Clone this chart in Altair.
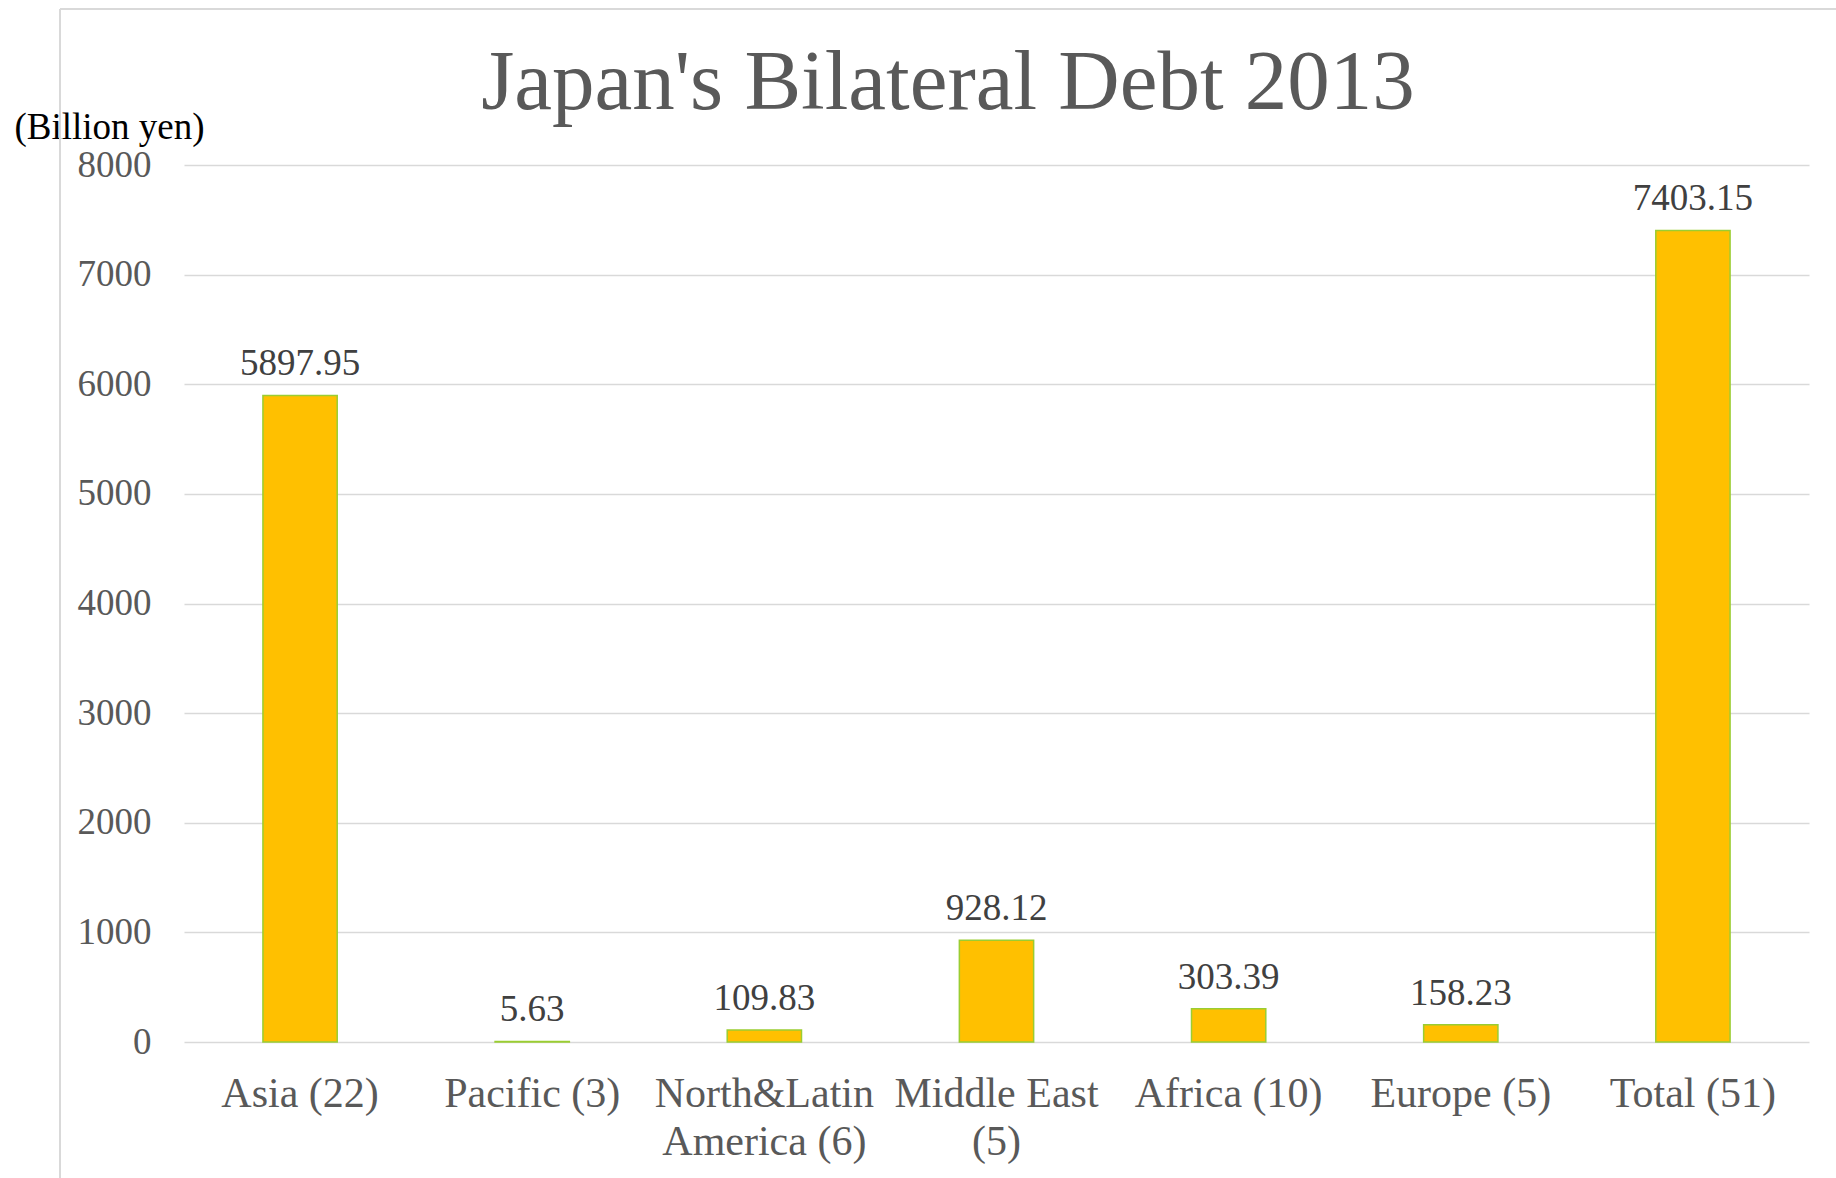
import altair as alt
import pandas as pd

categories = ["Asia (22)", "Pacific (3)", "North&Latin\nAmerica (6)", "Middle East\n(5)",
              "Africa (10)", "Europe (5)", "Total (51)"]
values = [5897.95, 5.63, 109.83, 928.12, 303.39, 158.23, 7403.15]
y_ticks = [0, 1000, 2000, 3000, 4000, 5000, 6000, 7000, 8000]
title_text = "Japan's Bilateral Debt 2013"
unit_text = "(Billion yen)"

FONT = "Liberation Serif"
W, H = 1625, 877

df = pd.DataFrame({"region": categories, "debt": values})

x_enc = alt.X("region:N", sort=categories,
              scale=alt.Scale(paddingInner=0.68, paddingOuter=0.34),
              axis=alt.Axis(title=None, labelAngle=0, labelFontSize=42, labelFont=FONT,
                            labelColor="#595959", ticks=False, tickSize=0, domain=False,
                            labelPadding=31, labelLineHeight=48, labelLimit=1000,
                            labelExpr="split(datum.label, '\\n')"))
y_enc = alt.Y("debt:Q", scale=alt.Scale(domain=[0, 8000], nice=False),
              axis=alt.Axis(values=y_ticks, format="d", title=unit_text, titleAngle=0,
                            titleX=-170, titleY=-27, titleAlign="left",
                            titleBaseline="alphabetic", titleFont=FONT,
                            titleFontSize=37, titleFontWeight="normal", titleColor="#000000",
                            labelFontSize=37, labelFont=FONT, labelColor="#595959",
                            labelPadding=33, ticks=False, tickSize=0, domain=False,
                            grid=True, gridColor="#D9D9D9", gridWidth=1.5))

bars = alt.Chart(df).mark_bar(color="#FFC000", stroke="#9ACD32", strokeWidth=1.5).encode(
    x=x_enc, y=y_enc)

labels = alt.Chart(df).mark_text(font=FONT, fontSize=37, color="#404040",
                                 baseline="alphabetic", dy=-20).encode(
    x=alt.X("region:N", sort=categories),
    y=alt.Y("debt:Q"),
    text=alt.Text("debt:Q", format=".2f"))

title_df = pd.DataFrame({"t": [title_text]})
title = alt.Chart(title_df).mark_text(font=FONT, fontSize=85, color="#595959",
                                      baseline="alphabetic", align="center").encode(
    x=alt.value(764), y=alt.value(-56), text="t:N")

border_df = pd.DataFrame({"b": [1]})
border_left = alt.Chart(border_df).mark_rule(color="#D9D9D9", strokeWidth=2).encode(
    x=alt.value(-124), y=alt.value(-156), y2=alt.value(1013))
border_top = alt.Chart(border_df).mark_rule(color="#D9D9D9", strokeWidth=2).encode(
    x=alt.value(-124), x2=alt.value(1652), y=alt.value(-156))

chart = alt.layer(border_left, border_top, bars, labels, title).properties(
    width=W, height=H,
    autosize=alt.AutoSizeParams(type="none"),
    padding={"left": 184, "top": 165, "right": 27, "bottom": 136},
    background="#FFFFFF",
).configure_view(stroke=None)

chart.save("out.html", embed_options={"renderer": "svg", "actions": False})
